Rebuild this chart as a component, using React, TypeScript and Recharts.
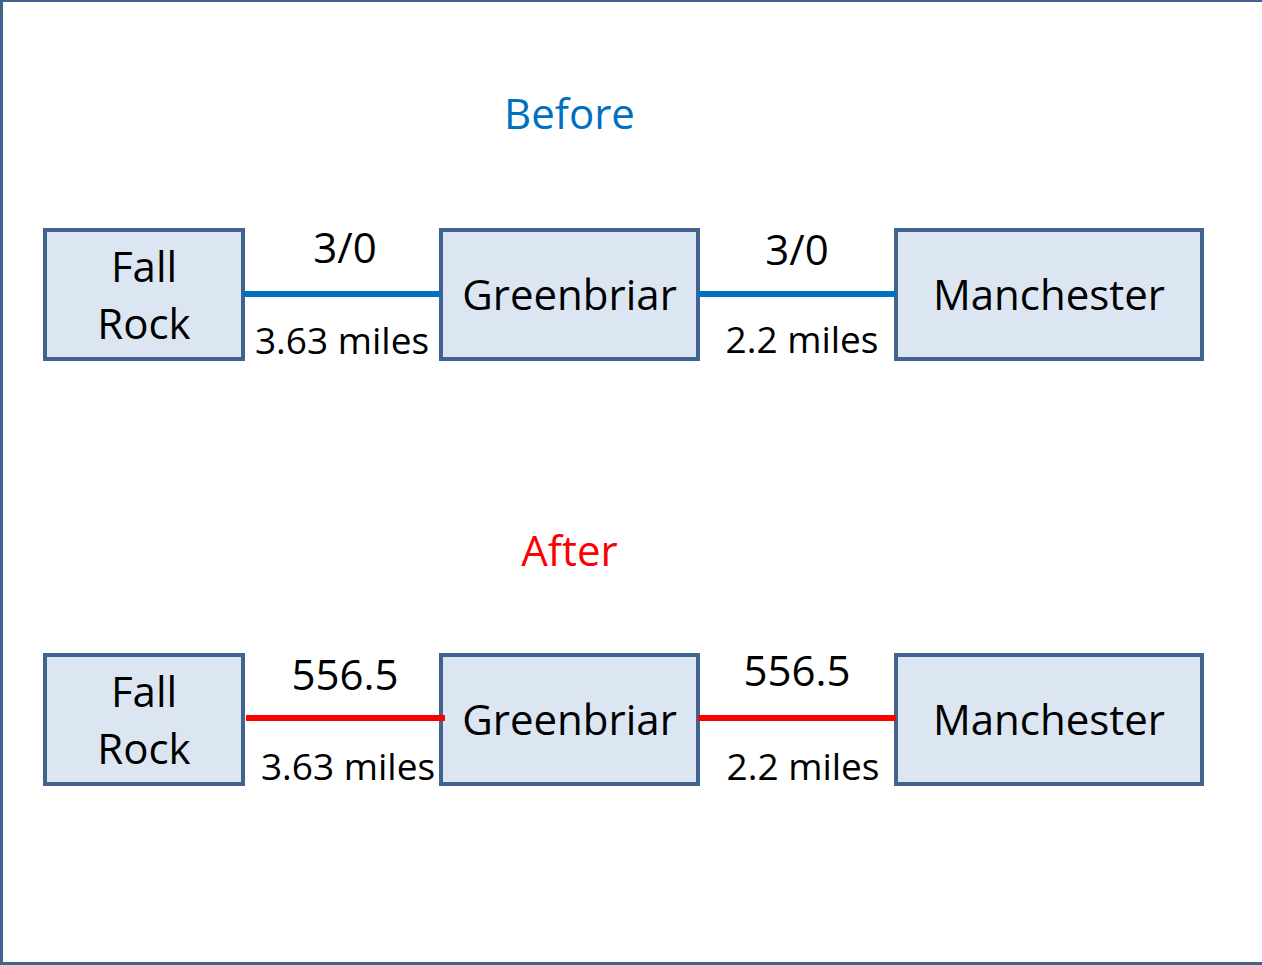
import React from "react";
import {
  ComposedChart,
  XAxis,
  YAxis,
  ReferenceArea,
  ReferenceLine,
  Scatter,
} from "recharts";

// ---- data ----
const stations = ["Fall Rock", "Greenbriar", "Manchester"];
const scenarios = ["Before", "After"];
const scenarioColors = ["#0070C0", "#FF0000"];
const beforeRatings = ["3/0", "3/0"];
const afterRatings = ["556.5", "556.5"];
const segmentMiles = ["3.63 miles", "2.2 miles"];

// ---- layout ----
const W = 1262;
const H = 965;
const boxLeft = [45, 441, 896];
const boxRight = [243, 698, 1202];
const rowTop = [230, 655];
const rowBottom = [359, 784];
const rowLineY = [294, 718];
const titleBaseline = [129, 566];
const ratingBaseline = [[263, 265], [690, 686]];
const ratingX = [345, 797];
const milesBaseline = [[354, 353], [780, 780]];
const milesX = [[342, 802], [348, 803]];
const FONT = "'Open Sans', 'Noto Sans', sans-serif";
const BOX_FILL = "#DCE6F2";
const BOX_STROKE = "#41648F";

type TextItem = { x: number; y: number; text: string; size: number; color: string };

const textItems: TextItem[] = [];
scenarios.forEach((s, r) => {
  const cx = (boxLeft[1] + boxRight[1]) / 2;
  textItems.push({ x: cx, y: titleBaseline[r], text: s, size: 42, color: scenarioColors[r] });
  const ratings = r === 0 ? beforeRatings : afterRatings;
  ratings.forEach((t, i) => {
    textItems.push({ x: ratingX[i], y: ratingBaseline[r][i], text: t, size: 42, color: "#000" });
  });
  segmentMiles.forEach((t, i) => {
    textItems.push({ x: milesX[r][i], y: milesBaseline[r][i], text: t, size: 37, color: "#000" });
  });
  stations.forEach((name, i) => {
    const mid = (boxLeft[i] + boxRight[i]) / 2;
    const words = name === "Fall Rock" ? ["Fall", "Rock"] : [name];
    const center = (rowTop[r] + rowBottom[r]) / 2;
    if (words.length === 2) {
      textItems.push({ x: mid, y: center - 13, text: words[0], size: 42, color: "#000" });
      textItems.push({ x: mid, y: center + 44, text: words[1], size: 42, color: "#000" });
    } else {
      textItems.push({ x: mid, y: center + 15, text: words[0], size: 42, color: "#000" });
    }
  });
});

const TextShape = (props: any) => {
  const { cx, cy, payload } = props;
  return (
    <text
      x={cx}
      y={cy}
      textAnchor="middle"
      fontFamily={FONT}
      fontSize={payload.size}
      fill={payload.color}
    >
      {payload.text}
    </text>
  );
};

export default function App() {
  return (
    <div style={{ position: "absolute", left: 0, top: 0, width: W, height: H, background: "#fff" }}>
      <ComposedChart width={W} height={H} margin={{ top: 0, right: 0, bottom: 0, left: 0 }}>
        <XAxis type="number" dataKey="x" domain={[0, W]} hide allowDataOverflow />
        <YAxis type="number" dataKey="y" domain={[0, H]} reversed hide allowDataOverflow />
        {/* frame */}
        <ReferenceLine segment={[{ x: 1.5, y: 0 }, { x: 1.5, y: H }]} stroke={BOX_STROKE} strokeWidth={3} ifOverflow="visible" />
        <ReferenceLine segment={[{ x: 0, y: 1 }, { x: W, y: 1 }]} stroke={BOX_STROKE} strokeWidth={2} ifOverflow="visible" />
        <ReferenceLine segment={[{ x: 0, y: 963.5 }, { x: W, y: 963.5 }]} stroke={BOX_STROKE} strokeWidth={3} ifOverflow="visible" />
        {/* boxes */}
        {scenarios.map((s, r) =>
          stations.map((name, i) => (
            <ReferenceArea
              key={`${s}-${name}`}
              x1={boxLeft[i]}
              x2={boxRight[i]}
              y1={rowTop[r]}
              y2={rowBottom[r]}
              fill={BOX_FILL}
              fillOpacity={1}
              stroke={BOX_STROKE}
              strokeWidth={4}
              ifOverflow="visible"
            />
          ))
        )}
        {/* connecting lines */}
        {scenarios.map((s, r) =>
          [0, 1].map((i) => (
            <ReferenceLine
              key={`${s}-line-${i}`}
              segment={[
                { x: boxRight[i] + (r === 1 && i === 0 ? 3 : 0), y: rowLineY[r] },
                { x: boxLeft[i + 1] + (r === 1 && i === 0 ? 4 : 0), y: rowLineY[r] },
              ]}
              stroke={scenarioColors[r]}
              strokeWidth={6}
              ifOverflow="visible"
            />
          ))
        )}
        <Scatter data={textItems} dataKey="y" shape={TextShape} isAnimationActive={false} />
      </ComposedChart>
    </div>
  );
}
